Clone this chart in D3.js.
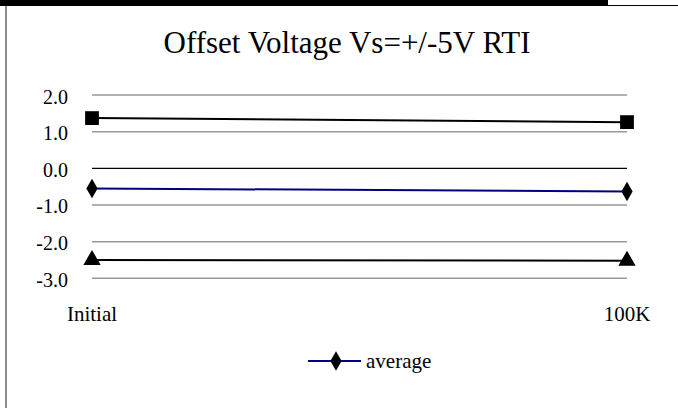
<!DOCTYPE html>
<html>
<head>
<meta charset="utf-8">
<script src="https://cdn.jsdelivr.net/npm/d3@7/dist/d3.min.js"></script>
<style>
  html, body { margin: 0; padding: 0; background: #fff; }
  svg { display: block; }
</style>
</head>
<body>
<svg id="chart" width="678" height="408"></svg>
<script>
const title = "Offset Voltage Vs=+/-5V RTI";
const categories = ["Initial", "100K"];
const maxValues = [1.37, 1.26];
const averageValues = [-0.55, -0.63];
const minValues = [-2.50, -2.52];
const yTicks = [2, 1, 0, -1, -2, -3];
const legendLabels = ["average"];

const FONT = "'Liberation Serif', Tinos, 'Times New Roman', serif";
const svg = d3.select("#chart");
const W = 678, H = 408;

// frame decorations
svg.append("rect").attr("x", 0).attr("y", 0).attr("width", 608).attr("height", 6).attr("fill", "#000");
svg.append("line").attr("x1", 608).attr("x2", W).attr("y1", 5.5).attr("y2", 5.5).attr("stroke", "#000").attr("stroke-width", 1);
svg.append("line").attr("x1", 6).attr("x2", 6).attr("y1", 6).attr("y2", H).attr("stroke", "#8c8c8c").attr("stroke-width", 2);

const plot = { left: 92, right: 627, top: 95, bottom: 278.3 };

const x = d3.scalePoint().domain(categories).range([plot.left, plot.right]).padding(0);
const y = d3.scaleLinear().domain([-3, 2]).range([plot.bottom, plot.top]);

// title
svg.append("text").attr("x", 347).attr("y", 53).attr("text-anchor", "middle")
  .attr("font-family", FONT).attr("font-size", 31).attr("fill", "#000").text(title);

// gridlines
svg.append("g").selectAll("line").data(yTicks.filter(d => d !== 0)).join("line")
  .attr("x1", plot.left).attr("x2", plot.right)
  .attr("y1", d => y(d)).attr("y2", d => y(d))
  .attr("stroke", "#999").attr("stroke-width", 1.5);

// y axis labels
const fmt = d => d.toFixed(1);
const yAxis = d3.axisLeft(y).tickValues(yTicks).tickFormat(fmt).tickSize(0).tickPadding(24);
const yg = svg.append("g").attr("transform", `translate(${plot.left},0)`).call(yAxis)
  .attr("font-family", FONT).attr("font-size", 20);
yg.select(".domain").remove();
yg.selectAll("text").attr("dy", "0.4em").attr("fill", "#000");

// x axis at zero
const xAxis = d3.axisBottom(x).tickSize(0).tickFormat("");
const xg = svg.append("g").attr("transform", `translate(0,${y(0)})`).call(xAxis);
xg.select(".domain").attr("stroke", "#000").attr("stroke-width", 1.2)
  .attr("d", `M${plot.left},0H${plot.right}`);

// category labels (low position)
svg.append("g").selectAll("text").data(categories).join("text")
  .attr("x", d => x(d)).attr("y", 321).attr("text-anchor", "middle")
  .attr("font-family", FONT).attr("font-size", 21).attr("fill", "#000").text(d => d);

const line = d3.line().x((d, i) => x(categories[i])).y(d => y(d));

const series = [
  { name: "max", values: maxValues, color: "#000", shape: d3.symbolSquare, size: 190 },
  { name: "average", values: averageValues, color: "#000080", shape: d3.symbolDiamond, size: 110 },
  { name: "min", values: minValues, color: "#000", shape: d3.symbolTriangle, size: 130 }
];

series.forEach(s => {
  svg.append("path").datum(s.values).attr("d", line)
    .attr("fill", "none").attr("stroke", s.color).attr("stroke-width", 2);
  svg.append("g").selectAll("path").data(s.values).join("path")
    .attr("transform", (d, i) => `translate(${x(categories[i])},${y(d)})`)
    .attr("d", d3.symbol().type(s.shape).size(s.size))
    .attr("fill", "#000");
});

// legend
const lg = svg.append("g").attr("transform", "translate(308,361)");
lg.append("line").attr("x1", 0).attr("x2", 53).attr("y1", 0).attr("y2", 0)
  .attr("stroke", "#000080").attr("stroke-width", 2);
lg.append("path").attr("transform", "translate(28,0)")
  .attr("d", d3.symbol().type(d3.symbolDiamond).size(110)).attr("fill", "#000");
lg.append("text").attr("x", 58).attr("y", 7)
  .attr("font-family", FONT).attr("font-size", 21).attr("fill", "#000").text(legendLabels[0]);
</script>
</body>
</html>
